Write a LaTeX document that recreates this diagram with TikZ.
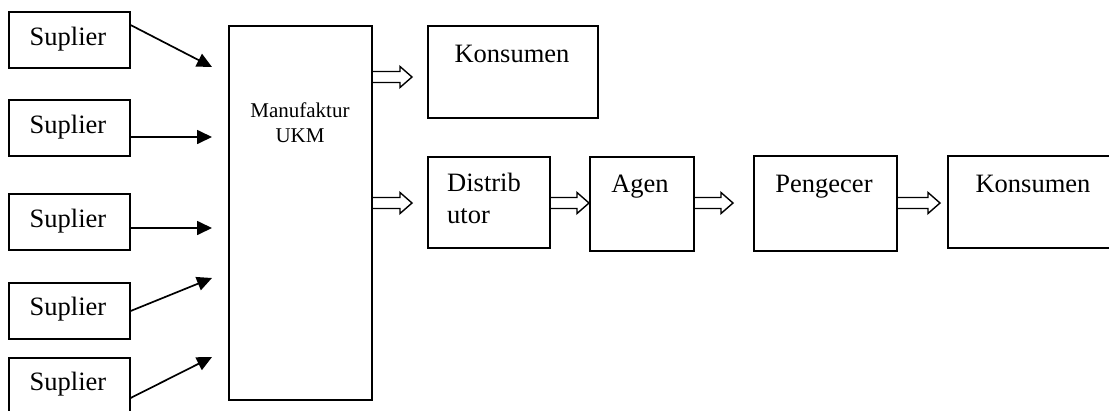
\documentclass[tikz,border=0pt]{standalone}
\usepackage{fontspec}
\setmainfont{Liberation Serif}
\usetikzlibrary{arrows.meta,calc}
\newcommand\harrow[2]{\draw[hollow] let \p1=(#1),\p2=(#2) in
  (\x1,\y1-5.5pt) -- (\x2-12pt,\y1-5.5pt) -- (\x2-12pt,\y1-10.5pt) -- (\x2,\y1)
  -- (\x2-12pt,\y1+10.5pt) -- (\x2-12pt,\y1+5.5pt) -- (\x1,\y1+5.5pt);}
\begin{document}
\begin{tikzpicture}[x=1pt,y=-1pt,
  box/.style={draw,line width=1.6pt,inner sep=0,anchor=north west},
  lbl/.style={inner sep=0,anchor=base,font=\fontsize{26.5}{32}\selectfont},
  lblw/.style={inner sep=0,anchor=base west,font=\fontsize{26.5}{32}\selectfont},
  small/.style={inner sep=0,anchor=base,font=\fontsize{21}{25}\selectfont},
  feed/.style={line width=1.7pt,-{Triangle[length=15pt,width=14pt]}},
  hollow/.style={line width=1.4pt,line join=miter}]
\useasboundingbox (0,0) rectangle (1109,410);
\clip (0,0) rectangle (1109,410);
% supplier boxes
\node[box,minimum width=121pt,minimum height=56pt] (s1) at (8,11) {};
\node[box,minimum width=121pt,minimum height=56pt] (s2) at (8,99) {};
\node[box,minimum width=121pt,minimum height=56pt] (s3) at (8,193) {};
\node[box,minimum width=121pt,minimum height=56pt] (s4) at (8,282) {};
\node[box,minimum width=121pt,minimum height=80pt] (s5) at (8,357) {};
\node[lbl] (t1) at (68,45) {Suplier};
\node[lbl] (t2) at (68,133) {Suplier};
\node[lbl] (t3) at (68,227) {Suplier};
\node[lbl] (t4) at (68,315) {Suplier};
\node[lbl] (t5) at (68,390) {Suplier};
% manufacturer
\node[box,minimum width=143pt,minimum height=374pt] (m) at (228,25) {};
\node[small] (mt1) at (300,117) {Manufaktur};
\node[small] (mt2) at (300,142) {UKM};
% other boxes
\node[box,minimum width=170pt,minimum height=92pt] (k1) at (427,25) {};
\node[lbl] (k1t) at (512,62) {Konsumen};
\node[box,minimum width=122pt,minimum height=91pt] (d) at (427,156) {};
\node[lblw] (dt1) at (447,191) {Distrib};
\node[lblw] (dt2) at (447,223) {utor};
\node[box,minimum width=104pt,minimum height=94pt] (a) at (589,156) {};
\node[lbl] (at) at (640,192) {Agen};
\node[box,minimum width=143pt,minimum height=95pt] (p) at (753,155) {};
\node[lbl] (pt) at (824,192) {Pengecer};
\node[box,minimum width=200pt,minimum height=92pt] (k2) at (947,155) {};
\node[lbl] (k2t) at (1033,192) {Konsumen};
% supplier arrows
\coordinate (e1) at (212,67);
\coordinate (e2) at (212,137);
\coordinate (e3) at (212,228);
\coordinate (e4) at (212,278);
\coordinate (e5) at (212,357);
\draw[feed] ($(s1.north east)+(0,14)$) -- (e1);
\draw[feed] ($(s2.north east)+(0,38)$) -- (e2);
\draw[feed] ($(s3.north east)+(0,35)$) -- (e3);
\draw[feed] ($(s4.north east)+(0,29)$) -- (e4);
\draw[feed] ($(s5.north east)+(0,41)$) -- (e5);
% hollow arrows
\coordinate (h1) at (412,77);
\coordinate (h2) at (412,203);
\coordinate (row) at (0,203);
\coordinate (h3) at (733,203);
\coordinate (h4) at (940,203);
\harrow{m.north east |- h1}{h1}
\harrow{m.north east |- h2}{h2}
\harrow{d.east |- row}{a.west |- row}
\harrow{a.east |- row}{h3}
\harrow{p.east |- row}{h4}
\end{tikzpicture}
\end{document}
